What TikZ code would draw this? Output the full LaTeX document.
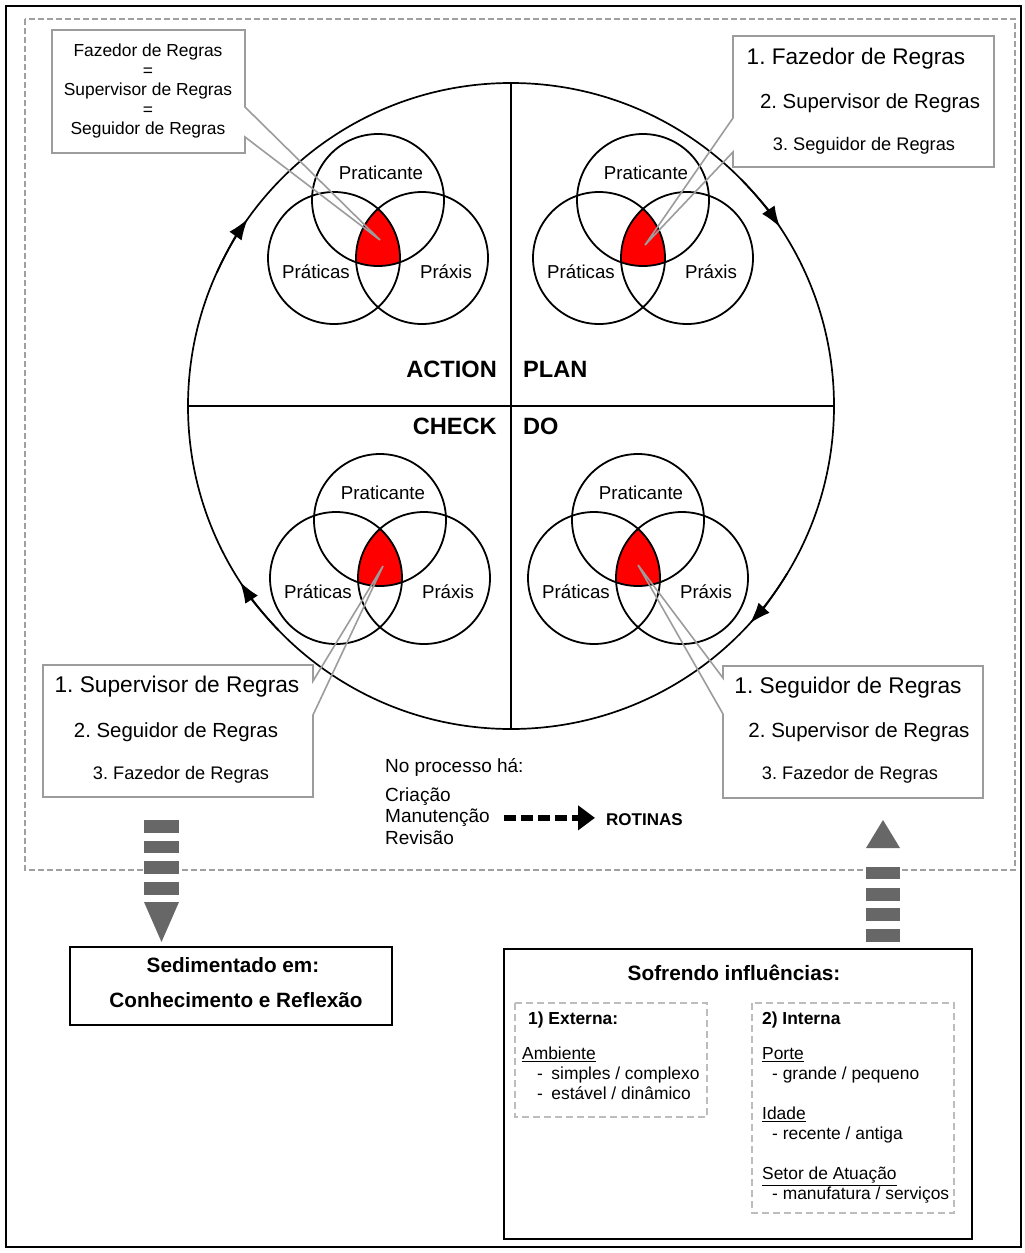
\documentclass[tikz,border=0pt]{standalone}
\usepackage{fontspec}
\setmainfont{Liberation Sans}
\usetikzlibrary{arrows.meta}
\frenchspacing
\definecolor{cgray}{HTML}{9C9C9C}
\definecolor{dgray}{HTML}{A0A0A0}
\definecolor{lgray}{HTML}{BDBDBD}
\definecolor{agray}{HTML}{676767}
\definecolor{vred}{HTML}{FF0000}
\newcommand\myvenn[3]{%
  \begin{scope}
    \clip (#1,#2) circle[radius=66];
    \clip (#1-44,#2+58) circle[radius=66];
    \fill[vred] (#1+44,#2+58) circle[radius=66];
  \end{scope}
  \draw[venn] (#1,#2) circle[radius=66];
  \draw[venn] (#1-44,#2+58) circle[radius=66];
  \draw[venn] (#1+44,#2+58) circle[radius=66];
  \node[vlabel] (#3p) at (#1+3,#2-23) {Praticante};
  \node[vlabel] (#3a) at (#1-62,#2+76) {Práticas};
  \node[vlabel] (#3x) at (#1+68,#2+76) {Práxis};
}
\begin{document}
\begin{tikzpicture}[x=1pt,y=-1pt,
  venn/.style={draw=black,line width=1.8pt},
  vlabel/.style={inner sep=0pt,anchor=mid,font=\fontsize{18.7}{21}\selectfont},
  quad/.style={inner sep=0pt,font=\fontsize{23.6}{27}\selectfont\bfseries},
  callout/.style={draw=cgray,line width=1.6pt,line join=miter},
  ctext/.style={inner sep=0pt,anchor=mid},
  cycarrow/.style={line width=1.7pt,-{Latex[length=21pt,width=15pt]}},
  bigbox/.style={draw=black,line width=1.8pt},
  innerbox/.style={draw=lgray,line width=1.3pt,dash pattern=on 7pt off 4pt},
  itxt/.style={inner sep=0pt,anchor=mid west,font=\fontsize{17.4}{20}\selectfont},
  mtxt/.style={inner sep=0pt,anchor=mid west,font=\fontsize{19}{22}\selectfont}]
\useasboundingbox (0,0) rectangle (1025,1253);
\fill[white] (0,0) rectangle (1025,1253);
% outer frame and dashed region
\draw[line width=1.6pt] (6,6) rectangle (1021,1247);
\draw[dgray,line width=1.2pt,dash pattern=on 6pt off 3pt] (25,19) rectangle (1015,870);

% big PDCA circle
\coordinate (C) at (511,406);
\draw[line width=1.7pt] (C) circle[radius=323];
\draw[line width=1.7pt] (C) ++(0,-323) -- ++(0,646);
\draw[line width=1.7pt] (C) ++(-323,0) -- ++(646,0);
\draw[cycarrow] (C) ++(-44.6:323) arc[start angle=-44.6,end angle=-33.6,radius=323];
\draw[cycarrow] (C) ++(-155.6:323) arc[start angle=-155.6,end angle=-144.6,radius=323];
\draw[cycarrow] (C) ++(-224:323) arc[start angle=-224,end angle=-213,radius=323];
\draw[cycarrow] (C) ++(-328.7:323) arc[start angle=-328.7,end angle=-317.7,radius=323];

\node[quad,anchor=mid east] (action) at (497,375) {ACTION};
\node[quad,anchor=mid west] (plan) at (523,375) {PLAN};
\node[quad,anchor=mid east] (check) at (497,432) {CHECK};
\node[quad,anchor=mid west] (do) at (523,432) {DO};

% Venn diagrams
\myvenn{378}{200}{tl}
\myvenn{643}{200}{tr}
\myvenn{380}{520}{bl}
\myvenn{638}{520}{br}

% callouts
\coordinate (tltip) at (380,240);
\coordinate (trtip) at (645,245);
\coordinate (bltip) at (383,566);
\coordinate (brtip) at (638,565);
\draw[callout] (52,30) -- (245,30) -- (245,107) -- (tltip) -- (245,137) -- (245,153) -- (52,153) -- cycle;
\draw[callout] (733,36) -- (994,36) -- (994,167) -- (733,167) -- (733,152) -- (trtip) -- (733,118) -- cycle;
\draw[callout] (43,665) -- (313,665) -- (313,681) -- (bltip) -- (313,715) -- (313,797) -- (43,797) -- cycle;
\draw[callout] (723,666) -- (983,666) -- (983,798) -- (723,798) -- (723,714) -- (brtip) -- (723,678) -- cycle;

\node[inner sep=0pt,align=center,font=\fontsize{17.4}{19.5}\selectfont] (tltext) at (148,91)
  {Fazedor de Regras\\=\\Supervisor de Regras\\=\\Seguidor de Regras};

\node[ctext,font=\fontsize{22.6}{26}\selectfont] (tr1) at (856,62) {1. Fazedor de Regras};
\node[ctext,font=\fontsize{20.4}{24}\selectfont] (tr2) at (870,106) {2. Supervisor de Regras};
\node[ctext,font=\fontsize{18.2}{21}\selectfont] (tr3) at (864,148) {3. Seguidor de Regras};

\node[ctext,font=\fontsize{22.7}{26}\selectfont] (bl1) at (177,690) {1. Supervisor de Regras};
\node[ctext,font=\fontsize{20.4}{24}\selectfont] (bl2) at (176,735) {2. Seguidor de Regras};
\node[ctext,font=\fontsize{18.2}{21}\selectfont] (bl3) at (181,777) {3. Fazedor de Regras};

\node[ctext,font=\fontsize{22.7}{26}\selectfont] (br1) at (848,691) {1. Seguidor de Regras};
\node[ctext,font=\fontsize{20.5}{24}\selectfont] (br2) at (859,735) {2. Supervisor de Regras};
\node[ctext,font=\fontsize{18.2}{21}\selectfont] (br3) at (850,777) {3. Fazedor de Regras};

% process text
\node[mtxt] (proc) at (385,770) {No processo há:};
\node[mtxt] (cri) at (385,799) {Criação};
\node[mtxt] (man) at (385,820) {Manutenção};
\node[mtxt] (rev) at (385,842) {Revisão};
\node[inner sep=0pt,anchor=mid west,font=\fontsize{17}{20}\selectfont\bfseries] (rot) at (606,823) {ROTINAS};
\draw[line width=6pt,dash pattern=on 12pt off 5pt,-{Triangle[length=17pt,width=24pt]}]
  ([xshift=14pt]man.east) -- ([xshift=-11pt]rot.west |- man.east);

% gray block arrows
\fill[agray] (144,820) rectangle (179,833);
\fill[agray] (144,841) rectangle (179,853);
\fill[agray] (144,861) rectangle (179,874);
\fill[agray] (144,882) rectangle (179,895);
\fill[agray] (144,902) -- (179,902) -- (161.5,942) -- cycle;

\fill[agray] (866,848) -- (900,848) -- (883,820) -- cycle;
\fill[agray] (866,867) rectangle (900,879);
\fill[agray] (866,888) rectangle (900,901);
\fill[agray] (866,908) rectangle (900,921);
\fill[agray] (866,929) rectangle (900,942);

% Sedimentado box
\draw[bigbox] (70,947) rectangle (392,1025);
\node[inner sep=0pt,anchor=mid,font=\fontsize{20.7}{24}\selectfont\bfseries] (sed1) at (233,970) {Sedimentado em:};
\node[inner sep=0pt,anchor=mid,font=\fontsize{20.7}{24}\selectfont\bfseries] (sed2) at (236,1005) {Conhecimento e Reflexão};

% Sofrendo box
\draw[bigbox] (504,949) rectangle (972,1239);
\node[inner sep=0pt,anchor=mid,font=\fontsize{20.8}{24}\selectfont\bfseries] (sof) at (734,978) {Sofrendo influências:};
\draw[innerbox] (515,1003) rectangle (707,1117);
\draw[innerbox] (752,1003) rectangle (954,1213);

\node[itxt,font=\fontsize{17.4}{20}\selectfont\bfseries] (ext) at (528,1022) {1) Externa:};
\node[itxt] (amb) at (522,1057) {\underline{Ambiente}};
\node[itxt] (amb1) at (537,1077) {-\hspace{8.5pt}simples / complexo};
\node[itxt] (amb2) at (537,1097) {-\hspace{8.5pt}estável / dinâmico};

\node[itxt,font=\fontsize{17.4}{20}\selectfont\bfseries] (int) at (762,1022) {2) Interna};
\node[itxt] (por) at (762,1057) {\underline{Porte}};
\node[itxt] (por1) at (772,1077) {- grande / pequeno};
\node[itxt] (ida) at (762,1117) {\underline{Idade}};
\node[itxt] (ida1) at (772,1137) {- recente / antiga};
\node[itxt] (set) at (762,1177) {\underline{Setor de Atuação}};
\node[itxt] (set1) at (772,1197) {- manufatura / serviços};
\end{tikzpicture}
\end{document}
